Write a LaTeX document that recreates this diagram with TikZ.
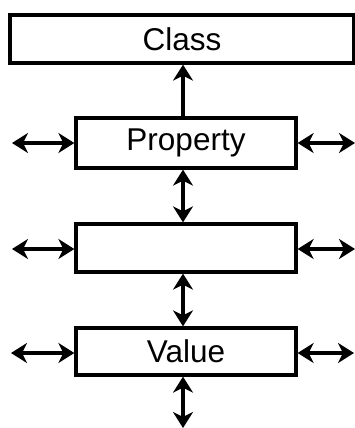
\documentclass[tikz,border=0pt]{standalone}
\usepackage{fontspec}
\setmainfont{Liberation Sans}
\usetikzlibrary{arrows.meta}
\begin{document}
\begin{tikzpicture}[x=1pt,y=-1pt,
  box/.style={draw,line width=3.3pt,rectangle,inner sep=0pt,font=\fontsize{31.5}{34}\selectfont},
  arr/.style={line width=3.3pt,-{Stealth[length=16pt,width=20pt,inset=5pt]}},
  darr/.style={line width=3.3pt,{Stealth[length=16pt,width=20pt,inset=5pt]}-{Stealth[length=16pt,width=20pt,inset=5pt]}}]
\useasboundingbox (0,0) rectangle (355,428);
\node[box,minimum width=344pt,minimum height=48pt] (class) at (182,39) {Class};
\node[box,minimum width=220pt,minimum height=50pt] (prop) at (186,143) {Property};
\node[box,minimum width=220pt,minimum height=48pt] (mid) at (186,248) {};
\node[box,minimum width=220pt,minimum height=47pt] (val) at (186,351.5) {Value};
\coordinate (ax) at (183,0);
\coordinate (pl) at (12,143);
\coordinate (pr) at (355,143);
\coordinate (ml) at (12,249);
\coordinate (mr) at (355,249);
\coordinate (vl) at (11,353);
\coordinate (vr) at (354,353);
\coordinate (bot) at (183,428);
\draw[arr] (prop.north -| ax) -- (class.south -| ax);
\draw[darr] (prop.south -| ax) -- (mid.north -| ax);
\draw[darr] (mid.south -| ax) -- (val.north -| ax);
\draw[darr] (val.south -| ax) -- (bot);
\draw[darr] (pl) -- (prop.west |- pl);
\draw[darr] (prop.east |- pr) -- (pr);
\draw[darr] (ml) -- (mid.west |- ml);
\draw[darr] (mid.east |- mr) -- (mr);
\draw[darr] (vl) -- (val.west |- vl);
\draw[darr] (val.east |- vr) -- (vr);
\end{tikzpicture}
\end{document}
